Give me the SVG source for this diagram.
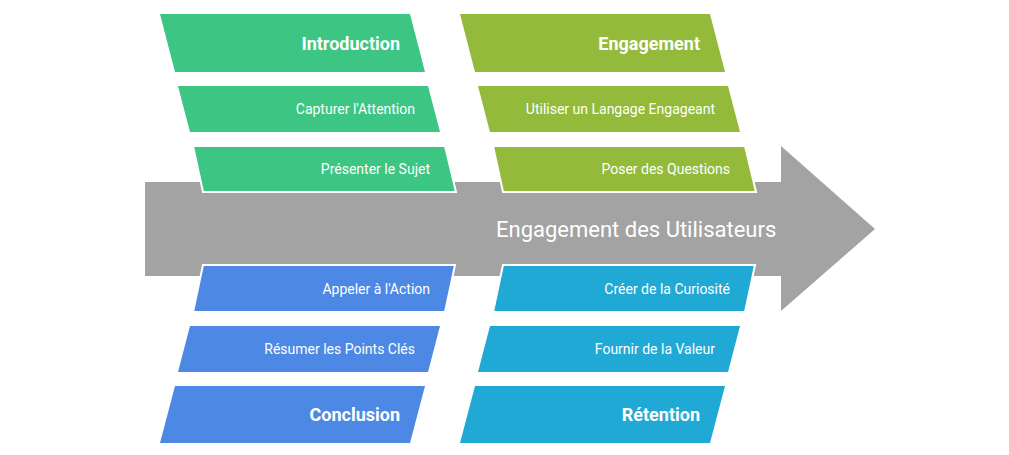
<svg xmlns="http://www.w3.org/2000/svg" width="1009" height="455" viewBox="0 0 1009 455">
<style>
text{font-family:Roboto,"Liberation Sans",sans-serif;fill:#fff;text-anchor:end}
.h{font-size:18px;font-weight:bold}
.s{font-size:14px}
.g{fill:#3CC583}.o{fill:#93BA3A}.b{fill:#4D88E4}.c{fill:#21A9D6}
.w{stroke:#fff;stroke-width:2}
</style>
<g id="spine"><polygon points="145,182 781,182 781,146 875,229 781,311 781,276 145,276" fill="#A3A3A3"/>
<text x="496" y="237" style="text-anchor:start;font-size:22px">Engagement des Utilisateurs</text></g>
<g id="introduction"><polygon class="g" points="160,14 410,14 425,72 175,72"/><text class="h" x="400" y="50">Introduction</text></g>
<g id="capturer"><polygon class="g" points="178,86 428,86 440,132 190,132"/><text class="s" x="415" y="114">Capturer l'Attention</text></g>
<g id="presenter"><polygon class="g w" points="193,146 445,146 456,192 203,192"/><text class="s" x="430" y="174">Présenter le Sujet</text></g>
<g id="appeler"><polygon class="b w" points="203,265 455,265 445,312 193,312"/><text class="s" x="430" y="294">Appeler à l'Action</text></g>
<g id="resumer"><polygon class="b" points="190,326 440,326 428,372 178,372"/><text class="s" x="415" y="354">Résumer les Points Clés</text></g>
<g id="conclusion"><polygon class="b" points="175,386 425,386 410,443 160,443"/><text class="h" x="400" y="421">Conclusion</text></g>
<g id="engagement"><polygon class="o" points="460,14 710,14 725,72 475,72"/><text class="h" x="700" y="50">Engagement</text></g>
<g id="langage"><polygon class="o" points="478,86 728,86 740,132 490,132"/><text class="s" x="715" y="114">Utiliser un Langage Engageant</text></g>
<g id="questions"><polygon class="o w" points="493,146 745,146 756,192 503,192"/><text class="s" x="730" y="174">Poser des Questions</text></g>
<g id="curiosite"><polygon class="c w" points="503,265 755,265 745,312 493,312"/><text class="s" x="730" y="294">Créer de la Curiosité</text></g>
<g id="valeur"><polygon class="c" points="490,326 740,326 728,372 478,372"/><text class="s" x="715" y="354">Fournir de la Valeur</text></g>
<g id="retention"><polygon class="c" points="475,386 725,386 710,443 460,443"/><text class="h" x="700" y="421">Rétention</text></g>
<g id="connectors"/>
</svg>
